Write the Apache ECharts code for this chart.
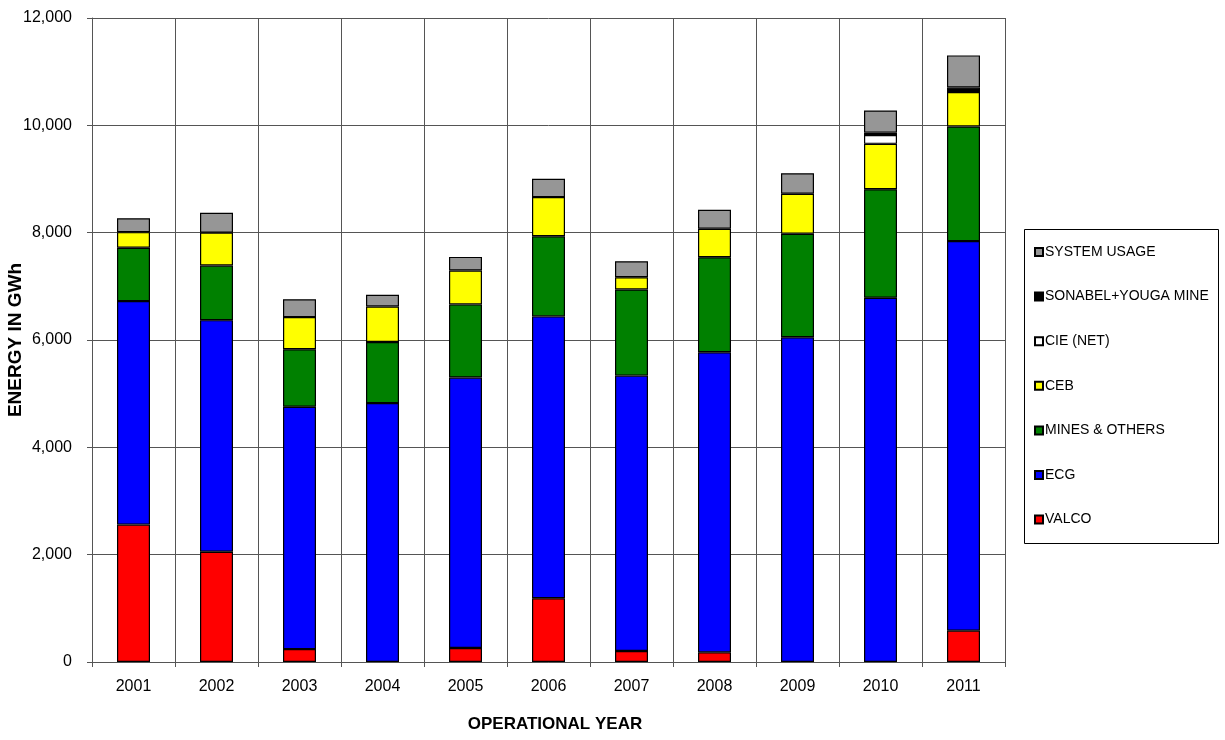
<!DOCTYPE html>
<html>
<head>
<meta charset="utf-8">
<script src="https://cdn.jsdelivr.net/npm/echarts@6/dist/echarts.min.js"></script>
<style>html,body{margin:0;padding:0;background:#fff}#c{width:1225px;height:740px}</style>
</head>
<body>
<div id="c"></div>
<script>
const years = ['2001','2002','2003','2004','2005','2006','2007','2008','2009','2010','2011'];
const valco   = [2560, 2055, 240, 0, 260, 1189, 204, 180, 0, 0, 584];
const ecg     = [4165, 4315, 4515, 4824, 5040, 5251, 5133, 5591, 6050, 6787, 7259];
const mines   = [995, 1017, 1072, 1139, 1363, 1492, 1604, 1771, 1931, 2022, 2135];
const ceb     = [290, 613, 600, 662, 631, 731, 229, 532, 743, 846, 644];
const cie     = [0, 0, 0, 0, 0, 0, 0, 0, 0, 165, 0];
const sonabel = [0, 0, 0, 0, 0, 0, 0, 0, 0, 45, 82];
const sysUse  = [260, 370, 333, 217, 254, 340, 297, 353, 384, 412, 599];
const yTicks = [0, 2000, 4000, 6000, 8000, 10000, 12000];

const seriesDefs = [
  ['VALCO', valco, '#ff0000'],
  ['ECG', ecg, '#0000ff'],
  ['MINES & OTHERS', mines, '#008000'],
  ['CEB', ceb, '#ffff00'],
  ['CIE (NET)', cie, '#ffffff'],
  ['SONABEL+YOUGA MINE', sonabel, '#000000'],
  ['SYSTEM USAGE', sysUse, '#969696']
];
const font = 'Liberation Sans, Arial, sans-serif';
const chart = echarts.init(document.getElementById('c'));
chart.setOption({
  animation: false,
  backgroundColor: '#fff',
  grid: {left: 92, right: 220, top: 18, bottom: 78, containLabel: false, outerBoundsMode: 'none'},
  graphic: [{type: 'rect', shape: {x: 1024.5, y: 229.5, width: 194, height: 314},
    style: {fill: 'none', stroke: '#000', lineWidth: 1}, z: 0}],
  legend: {
    orient: 'vertical', left: 1029, top: 240,
    itemWidth: 8, itemHeight: 8, itemGap: 30.6,
    icon: 'rect',
    data: seriesDefs.map(d => d[0]).reverse(),
    textStyle: {fontFamily: font, fontSize: 14, color: '#000', padding: [0,0,0,-3]}
  },
  xAxis: {
    type: 'category', data: years,
    name: 'OPERATIONAL YEAR', nameLocation: 'middle', nameGap: 54,
    nameTextStyle: {fontFamily: font, fontSize: 17, fontWeight: 'bold', color: '#000', padding: [0,0,0,13]},
    axisLine: {lineStyle: {color: '#555', width: 1}},
    axisTick: {show: true, length: 5, lineStyle: {color: '#555'}},
    axisLabel: {fontFamily: font, fontSize: 16, color: '#000', margin: 17},
    splitLine: {show: true, interval: 0, lineStyle: {color: '#555', width: 1}}
  },
  yAxis: {
    type: 'value', min: 0, max: 12000, interval: 2000,
    name: 'ENERGY IN GWh', nameLocation: 'middle', nameGap: 67, nameMoveOverlap: false,
    nameTextStyle: {fontFamily: font, fontSize: 19, fontWeight: 'bold', color: '#000'},
    axisLine: {show: true, lineStyle: {color: '#555', width: 1}},
    axisTick: {show: true, length: 5, lineStyle: {color: '#555'}},
    axisLabel: {fontFamily: font, fontSize: 16, color: '#000', margin: 20,
      formatter: v => yTicks.includes(v) ? v.toLocaleString('en-US') : ''},
    splitLine: {show: true, lineStyle: {color: '#555', width: 1}}
  },
  series: seriesDefs.map(d => ({
    name: d[0], type: 'bar', stack: 'total', barWidth: 33,
    data: d[1].map(v => v === 0 ? null : v),
    itemStyle: {color: d[2], borderColor: '#000', borderWidth: 1.2},
    emphasis: {disabled: true}
  }))
});
</script>
</body>
</html>
